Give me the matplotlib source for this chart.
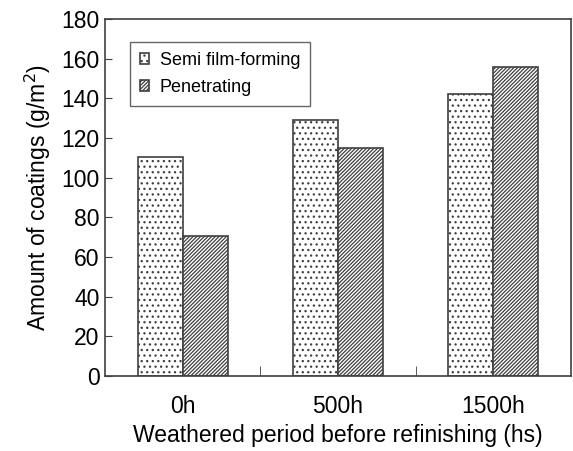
import numpy as np
import matplotlib
matplotlib.use("Agg")
import matplotlib.pyplot as plt

plt.rcParams['font.family'] = ['Liberation Sans', 'DejaVu Sans']
plt.rcParams['hatch.linewidth'] = 0.9
plt.rcParams['hatch.color'] = '#333333'

# data
periods = ['0h', '500h', '1500h']
semi_film = [110.5, 129, 142]
penetrating = [70.5, 115, 156]

fig = plt.figure(figsize=(5.73, 4.51), dpi=100)
ax = fig.add_axes([0.1832, 0.1663, 0.8133, 0.7916])

x = np.arange(len(periods))
w = 0.29
ax.bar(x - w/2, semi_film, w, color='white', edgecolor='#404040',
       hatch='...', linewidth=1.2, label='Semi film-forming')
ax.bar(x + w/2, penetrating, w, color='white', edgecolor='#404040',
       hatch='/////////', linewidth=1.2, label='Penetrating')

ax.set_xlim(-0.5, 2.5)
ax.set_ylim(0, 180)
ax.set_yticks(np.arange(0, 181, 20))
ax.set_xticks(x)
ax.set_xticklabels(periods)
ax.set_xticks([0.5, 1.5], minor=True)
ax.tick_params(axis='x', which='major', length=0, pad=14, labelsize=16.5)
ax.tick_params(axis='x', which='minor', direction='in', length=7, color='#404040')
ax.tick_params(axis='y', direction='in', length=5, labelsize=16.5, pad=4, color='#404040')
for s in ax.spines.values():
    s.set_color('#404040')
    s.set_linewidth(1.2)

ax.set_xlabel('Weathered period before refinishing (hs)', fontsize=16.5, labelpad=4)
ax.set_ylabel('Amount of coatings (g/m$^2$)', fontsize=16.5, labelpad=6)

leg = ax.legend(loc='upper left', bbox_to_anchor=(0.0536, 0.9356), borderaxespad=0,
                fontsize=13, frameon=True, fancybox=False, edgecolor='#404040',
                handlelength=0.5, handleheight=0.5, handletextpad=0.6,
                borderpad=0.55, labelspacing=0.55)
leg.get_frame().set_linewidth(1.0)

fig.savefig('out.png', dpi=100)
